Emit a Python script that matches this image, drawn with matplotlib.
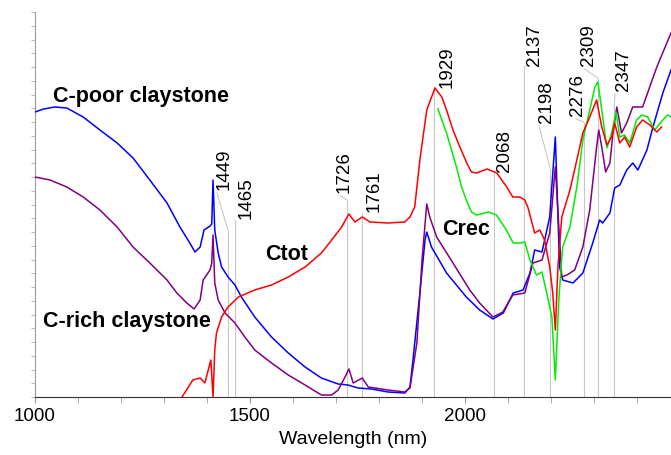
import numpy as np
import matplotlib
matplotlib.use("Agg")
import matplotlib.pyplot as plt

plt.rcParams['font.family'] = ['Liberation Sans', 'DejaVu Sans']

# C-poor claystone (blue)
poor_wl = [1000, 1020, 1046, 1074, 1112, 1151, 1191, 1228, 1267, 1307, 1337, 1360, 1372, 1384, 1393,
           1407, 1411, 1414, 1418, 1426, 1434, 1449, 1465, 1480, 1511, 1550, 1589, 1628, 1666, 1705,
           1728, 1751, 1783, 1821, 1860, 1872, 1879, 1895, 1907, 1911, 1922, 1957, 2003, 2034, 2065,
           2089, 2112, 2135, 2151, 2162, 2179, 2197, 2210, 2220, 2227, 2251, 2274, 2297, 2313, 2320,
           2337, 2348, 2360, 2376, 2390, 2402, 2423, 2437, 2460, 2479]
poor_r = [285, 288, 290, 289, 280, 267, 254, 239, 217, 194, 170, 154, 145, 150, 167,
          171, 173, 217, 167, 144, 130, 120, 112, 100, 80, 60, 44, 30, 19, 13,
          12, 9, 8, 5, 4, 10, 37, 104, 157, 165, 150, 124, 100, 87, 78,
          84, 104, 107, 124, 147, 145, 180, 260, 130, 117, 114, 124, 154, 177, 174,
          184, 209, 212, 227, 234, 227, 247, 270, 304, 327]

# C-rich claystone (purple)
rich_wl = [1000, 1035, 1074, 1112, 1151, 1191, 1228, 1267, 1307, 1330, 1353, 1370, 1384, 1391, 1407,
           1411, 1414, 1418, 1426, 1442, 1465, 1488, 1511, 1550, 1589, 1628, 1666, 1690, 1705, 1721,
           1730, 1740, 1761, 1775, 1821, 1860, 1872, 1888, 1900, 1911, 1918, 1934, 1972, 2011, 2034,
           2065, 2088, 2111, 2139, 2158, 2179, 2197, 2210, 2225, 2237, 2255, 2274, 2290, 2306, 2311,
           2318, 2327, 2337, 2344, 2353, 2364, 2376, 2390, 2413, 2446, 2479]
rich_r = [220, 217, 210, 200, 187, 170, 150, 134, 117, 104, 94, 88, 97, 117, 127,
          134, 162, 114, 97, 84, 74, 60, 47, 34, 22, 12, 2, 2, 7, 20,
          28, 14, 19, 10, 7, 5, 9, 54, 137, 193, 180, 160, 134, 107, 94,
          80, 85, 102, 104, 134, 137, 164, 230, 120, 122, 127, 150, 187, 250, 267,
          250, 225, 234, 264, 290, 264, 274, 290, 290, 330, 364]

# Ctot (red)
ctot_wl = [1342, 1367, 1384, 1395, 1409, 1414, 1418, 1422, 1434, 1449, 1473, 1511, 1550, 1589, 1628,
           1666, 1690, 1713, 1730, 1744, 1761, 1779, 1821, 1860, 1872, 1883, 1895, 1911, 1930, 1946,
           1957, 1972, 1988, 2004, 2015, 2027, 2051, 2074, 2097, 2111, 2127, 2139, 2146, 2162, 2174,
           2185, 2197, 2204, 2210, 2216, 2225, 2237, 2244, 2260, 2274, 2290, 2306, 2318, 2330, 2341,
           2348, 2360, 2371, 2383, 2399, 2413, 2430, 2446, 2457]
ctot_r = [0, 17, 19, 14, 37, 0, 47, 64, 80, 90, 100, 107, 112, 120, 130,
          144, 157, 170, 183, 175, 180, 175, 174, 175, 180, 190, 237, 287, 309, 300,
          287, 267, 250, 234, 225, 224, 228, 224, 210, 200, 200, 197, 190, 164, 167,
          157, 130, 104, 67, 130, 180, 197, 207, 237, 264, 280, 297, 270, 252, 260,
          274, 254, 260, 250, 270, 277, 272, 265, 270]

# Crec (green)
crec_wl = [1937, 1957, 1980, 1992, 2003, 2015, 2027, 2054, 2073, 2096, 2112, 2127, 2139, 2151, 2166,
           2179, 2190, 2202, 2210, 2218, 2227, 2244, 2260, 2274, 2290, 2302, 2309, 2318, 2330, 2341,
           2351, 2360, 2371, 2383, 2399, 2411, 2425, 2441, 2460, 2471, 2479]
crec_r = [288, 264, 230, 210, 197, 185, 182, 185, 182, 167, 154, 154, 155, 137, 122,
          125, 104, 80, 17, 97, 150, 170, 210, 257, 287, 310, 315, 287, 249, 264,
          285, 260, 262, 254, 277, 282, 280, 267, 277, 282, 280]

# absorption features
peaks = [1449, 1465, 1726, 1761, 1929, 2068, 2137, 2198, 2276, 2309, 2347]
peak_tops = [167, 177, 197, 184, 309, 225, 330, 229, 275, 319, 292]
label_offsets = [(-12, 40), (3, 1), (-12, 7), (3, 1), (4, 0), (2, 0), (2, 1),
                 (-12, 45), (-15, 6), (-18, 12), (1, 14)]

fig = plt.figure(figsize=(6.71, 4.55), dpi=100)
ax = fig.add_axes([35 / 671, 58 / 455, 636 / 671, 385 / 455])

gray = '#c8c8c8'
ax.vlines(peaks, 0, peak_tops, color=gray, lw=0.8, zorder=0)
for p, top, off in zip(peaks, peak_tops, label_offsets):
    ax.annotate(str(p), xy=(p, top), xytext=off, textcoords='offset pixels',
                rotation=90, ha='left', va='bottom', fontsize=13.5,
                arrowprops=dict(arrowstyle='-', color=gray, lw=0.8,
                                shrinkA=0, shrinkB=0, relpos=(0, 0)))

ax.plot(poor_wl, poor_r, color='#0000ff', lw=1.1, zorder=3)
ax.plot(rich_wl, rich_r, color='#800080', lw=1.1, zorder=3)
ax.plot(crec_wl, crec_r, color='#00ee00', lw=1.1, zorder=3)
ax.plot(ctot_wl, ctot_r, color='#ff0000', lw=1.1, zorder=3)

bold = dict(fontsize=15.5, fontweight='bold')
ax.text(1042, 295, 'C-poor claystone', **bold)
ax.text(1019, 70, 'C-rich claystone', **bold)
ax.text(1535, 137, 'Ctot', **bold)
ax.text(1947, 162, 'Crec', **bold)

ax.set_xlim(1000, 2479)
ax.set_ylim(0, 385)
ax.set_xticks([1000, 1500, 2000])
ax.set_xticks(np.arange(1000, 2500, 100), minor=True)
ax.set_yticks(np.linspace(0, 385, 29))
ax.set_yticklabels([])
ax.tick_params(axis='x', which='both', direction='out', length=4, color='#999999',
               labelsize=13.5, pad=4)
ax.tick_params(axis='y', direction='out', length=3, color='#bbbbbb')
ax.set_xlabel('Wavelength (nm)', fontsize=14, labelpad=4)

for s in ['top', 'right']:
    ax.spines[s].set_visible(False)
ax.spines['left'].set_color('#999999')
ax.spines['bottom'].set_color('#333333')

fig.savefig('out.png', dpi=100)
